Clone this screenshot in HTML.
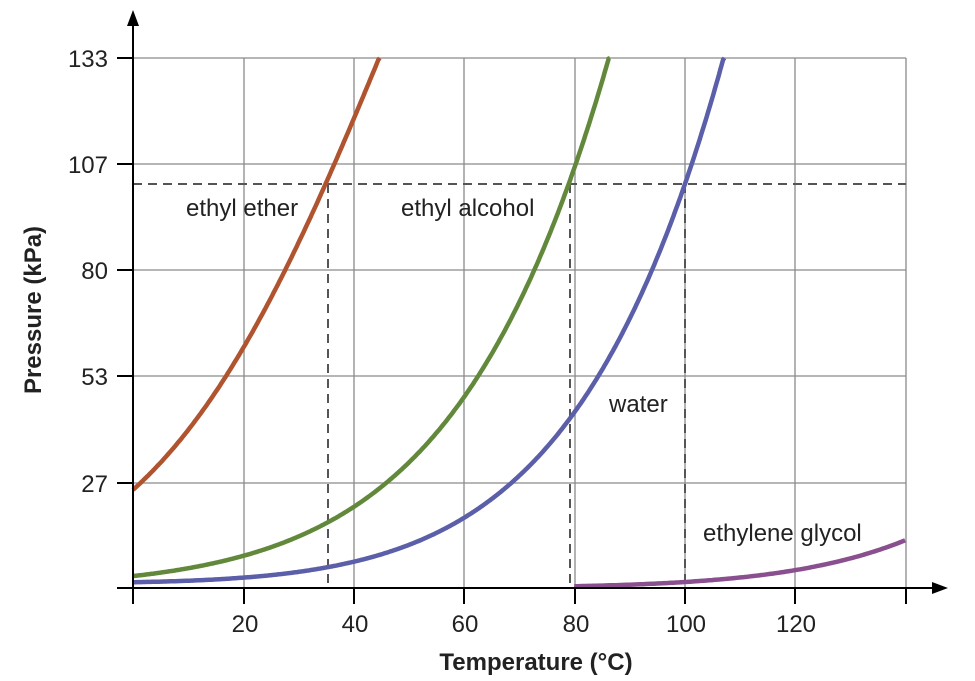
<!DOCTYPE html>
<html><head><meta charset="utf-8"><style>
html,body{margin:0;padding:0;background:#fff;}
svg{display:block;font-family:"Liberation Sans",sans-serif;}
</style></head><body>
<svg id="s" width="975" height="681" viewBox="0 0 975 681" xmlns="http://www.w3.org/2000/svg">
<g stroke="#8a8a8a" stroke-width="1.3" fill="none">
<line x1="133" y1="58" x2="906" y2="58"/>
<line x1="133" y1="164" x2="906" y2="164"/>
<line x1="133" y1="270" x2="906" y2="270"/>
<line x1="133" y1="376" x2="906" y2="376"/>
<line x1="133" y1="483" x2="906" y2="483"/>
<line x1="244" y1="58" x2="244" y2="588"/>
<line x1="354" y1="58" x2="354" y2="588"/>
<line x1="464" y1="58" x2="464" y2="588"/>
<line x1="575" y1="58" x2="575" y2="588"/>
<line x1="685" y1="58" x2="685" y2="588"/>
<line x1="795" y1="58" x2="795" y2="588"/>
<line x1="906" y1="58" x2="906" y2="588"/>
</g>
<g stroke="#555" stroke-width="2" stroke-dasharray="9,6" fill="none">
<line x1="133" y1="184" x2="906" y2="184"/>
<line x1="328" y1="184" x2="328" y2="588"/>
<line x1="570" y1="184" x2="570" y2="588"/>
<line x1="685" y1="184" x2="685" y2="588"/>
</g>
<g id="curves" fill="none" stroke-width="4.5" stroke-linecap="butt"></g>
<g stroke="#000" stroke-width="2" fill="none">
<line x1="133" y1="604" x2="133" y2="22"/>
<line x1="117" y1="588" x2="935" y2="588"/>
<line x1="117" y1="58" x2="133" y2="58"/>
<line x1="117" y1="164" x2="133" y2="164"/>
<line x1="117" y1="270" x2="133" y2="270"/>
<line x1="117" y1="376" x2="133" y2="376"/>
<line x1="117" y1="483" x2="133" y2="483"/>
<line x1="244" y1="588" x2="244" y2="604"/>
<line x1="354" y1="588" x2="354" y2="604"/>
<line x1="464" y1="588" x2="464" y2="604"/>
<line x1="575" y1="588" x2="575" y2="604"/>
<line x1="685" y1="588" x2="685" y2="604"/>
<line x1="795" y1="588" x2="795" y2="604"/>
<line x1="906" y1="588" x2="906" y2="604"/>
</g>
<polygon points="133,10 127,26 139,26" fill="#000"/>
<polygon points="948,588 932,582 932,594" fill="#000"/>
<g font-size="24" fill="#222" text-anchor="end">
<text x="108" y="67">133</text>
<text x="108" y="173">107</text>
<text x="108" y="279">80</text>
<text x="108" y="385">53</text>
<text x="108" y="492">27</text>
</g>
<g font-size="24" fill="#222" text-anchor="middle">
<text x="245" y="632">20</text>
<text x="355" y="632">40</text>
<text x="465" y="632">60</text>
<text x="576" y="632">80</text>
<text x="686" y="632">100</text>
<text x="796" y="632">120</text>
<text x="536" y="670" font-weight="bold" font-size="24">Temperature (°C)</text>
<text transform="translate(41,310) rotate(-90)" font-weight="bold" font-size="24">Pressure (kPa)</text>
</g>
<g font-size="24" fill="#222">
<text x="186" y="216">ethyl ether</text>
<text x="401" y="216">ethyl alcohol</text>
<text x="609" y="412">water</text>
<text x="703" y="541">ethylene glycol</text>
</g>
</svg>
<script>
(function(){
var g=document.getElementById('curves');
function X(t){return 133+t*5.515;}
function Y(p){return 588-p*3.975;}
function add(d,color){var e=document.createElementNS('http://www.w3.org/2000/svg','path');
 e.setAttribute('d',d);e.setAttribute('stroke',color);g.appendChild(e);}
function quad(color,a,b,c,t1,t2){
 var d='';
 for(var t=t1;t<=t2+1e-9;t+=0.25){
  var p=Math.exp(a+b*t+c*t*t);
  var y=Y(p);
  d+=(d?'L':'M')+X(t).toFixed(1)+','+Math.max(y,58).toFixed(1);
  if(y<58)break;
 }
 add(d,color);
}
quad('#b0532f',3.207,0.05036,-0.000282,0,50);
quad('#62893b',1.099,0.05128,-0.0000847,0,95);
var d='';
for(var t=0;t<=115;t+=0.25){var p=101.3*Math.exp(5500*(1/373-1/(t+273)))+1.0*Math.max(0,1-t/100);var y=Y(p);
 d+=(d?'L':'M')+X(t).toFixed(1)+','+Math.max(y,58).toFixed(1); if(y<58)break;}
add(d,'#5b5fa9');
d='';
for(var t=80;t<=140;t+=0.5){var p=12*Math.exp(8000*(1/413-1/(t+273)));d+=(d?'L':'M')+X(t).toFixed(1)+','+Y(p).toFixed(1);}
add(d,'#8a4f8e');
})();
</script>
</body></html>
